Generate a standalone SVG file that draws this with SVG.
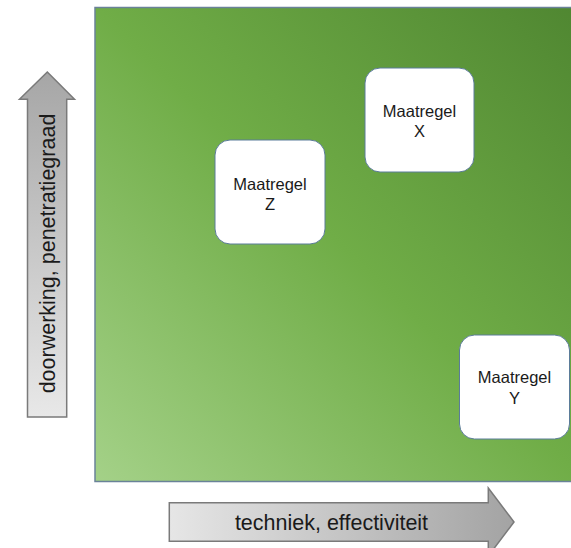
<svg xmlns="http://www.w3.org/2000/svg" width="571" height="548" viewBox="0 0 571 548">
<defs>
<linearGradient id="gGreen" x1="0" y1="1" x2="1" y2="0">
<stop offset="0" stop-color="#a4d188"/>
<stop offset="0.5" stop-color="#70ad47"/>
<stop offset="1" stop-color="#4f8631"/>
</linearGradient>
<linearGradient id="gUp" x1="0" y1="0" x2="0" y2="1">
<stop offset="0" stop-color="#a6a6a6"/>
<stop offset="1" stop-color="#e8e8e8"/>
</linearGradient>
<linearGradient id="gRight" x1="0" y1="0" x2="1" y2="0">
<stop offset="0" stop-color="#e6e6e6"/>
<stop offset="1" stop-color="#a3a3a3"/>
</linearGradient>
<style>
.box{fill:#ffffff;stroke:#5b7c99;stroke-width:1}
.lbl{font-family:"Liberation Sans",Arial,sans-serif;font-size:16.5px;fill:#1a1a1a;text-anchor:middle}
.axis{font-family:"Liberation Sans",Arial,sans-serif;font-size:21.5px;fill:#1a1a1a;text-anchor:middle}
.arr{stroke:#7a7a7a;stroke-width:1.5}
</style>
</defs>
<g id="field">
<rect x="95" y="7.5" width="490" height="474" fill="url(#gGreen)" stroke="#6a8299" stroke-width="1.5"/>
</g>
<g id="axis-y">
<path class="arr" fill="url(#gUp)" d="M47.3,72 L74.5,99.3 L66.7,99.3 L66.7,417 L27.5,417 L27.5,99.3 L19.5,99.3 Z"/>
<text class="axis" transform="translate(55,253.5) rotate(-90)">doorwerking, penetratiegraad</text>
</g>
<g id="axis-x">
<path class="arr" fill="url(#gRight)" d="M169.3,502.7 L488.3,502.7 L488.3,488 L514,522 L488.3,556 L488.3,541.3 L169.3,541.3 Z"/>
<text class="axis" x="331.5" y="529.5">techniek, effectiviteit</text>
</g>
<g id="node-x">
<rect class="box" x="365" y="68" width="109" height="104" rx="15"/>
<text class="lbl" x="419.5" y="116.5">Maatregel</text>
<text class="lbl" x="419.5" y="136.5">X</text>
</g>
<g id="node-z">
<rect class="box" x="215" y="140" width="110" height="104" rx="15"/>
<text class="lbl" x="270" y="190">Maatregel</text>
<text class="lbl" x="270" y="210">Z</text>
</g>
<g id="node-y">
<rect class="box" x="459.5" y="335" width="110" height="104" rx="15"/>
<text class="lbl" x="514.5" y="383">Maatregel</text>
<text class="lbl" x="514.5" y="404">Y</text>
</g>
<g id="connectors"/>
</svg>
